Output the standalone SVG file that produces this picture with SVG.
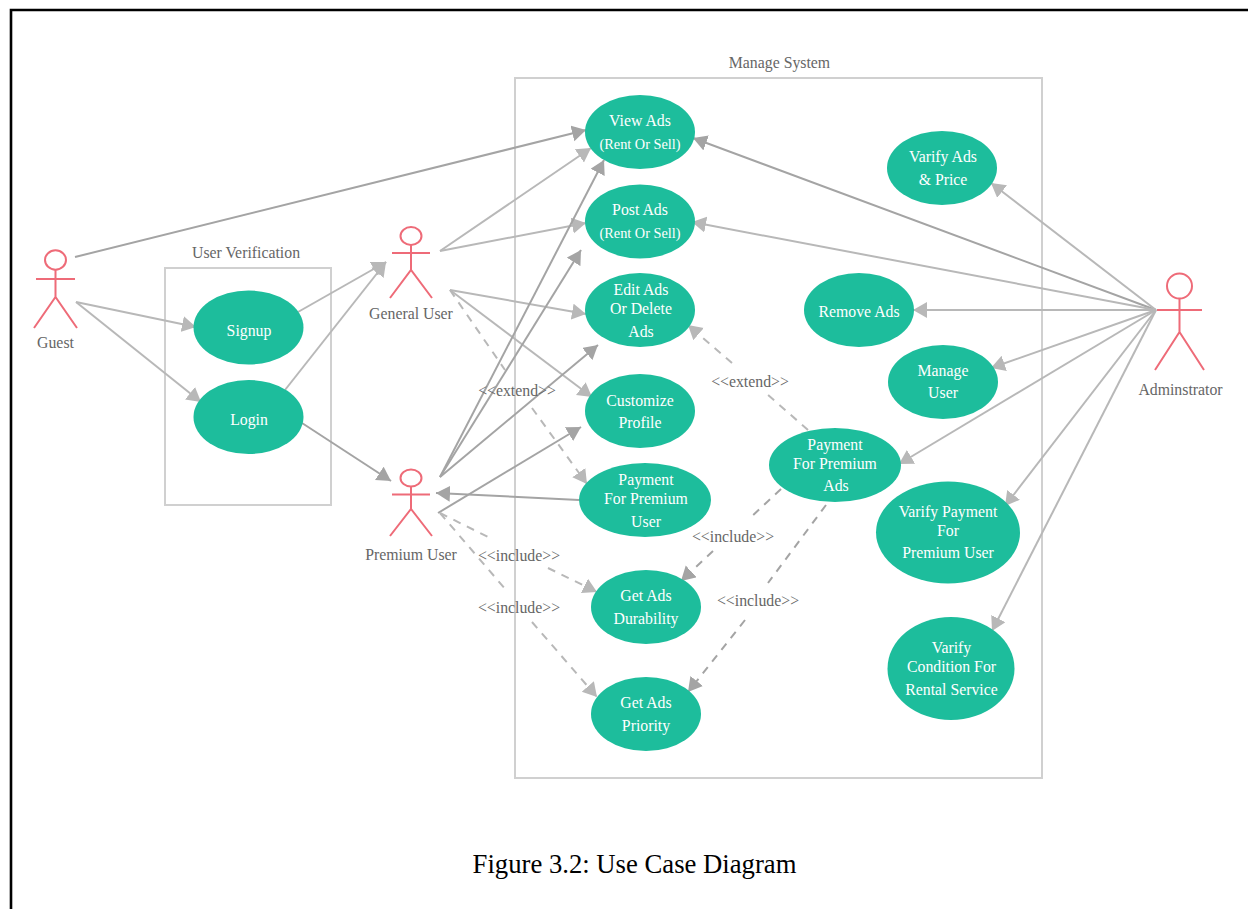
<svg xmlns="http://www.w3.org/2000/svg" width="1248" height="909" viewBox="0 0 1248 909">
<style>
text{font-family:"Liberation Serif","Times New Roman",serif;font-size:15.8px;text-anchor:middle;transform:translateY(.6px)}
.u{fill:#1dbd9c}
.uc text{fill:#fff}
.uc .s{font-size:14.3px}
.lb{fill:#666}
.box{fill:none;stroke:#d0d0d0;stroke-width:2}
.a{fill:none;stroke:#ee6b78;stroke-width:2}
.c{stroke:#b8b8b8;stroke-width:2;fill:none}
.d{stroke:#a4a4a4;stroke-width:2;fill:none}
.h{marker-end:url(#ml)}
.k{marker-end:url(#md)}
.e{stroke-dasharray:8 7}
</style>
<defs>
<marker id="ml" markerUnits="userSpaceOnUse" markerWidth="15" markerHeight="17" refX="14" refY="8" orient="auto"><path d="M0 0L14 8L0 16z" fill="#b8b8b8"/></marker>
<marker id="md" markerUnits="userSpaceOnUse" markerWidth="15" markerHeight="17" refX="14" refY="8" orient="auto"><path d="M0 0L14 8L0 16z" fill="#a4a4a4"/></marker>
</defs>
<rect width="1248" height="909" fill="#fff"/>
<path d="M11 909V10H1248" fill="none" stroke="#000" stroke-width="2.6"/>
<g id="user-verification"><rect class="box" x="165" y="268" width="166" height="237"/><text class="lb" x="246" y="257">User Verification</text></g>
<g id="manage-system"><rect class="box" x="515" y="78" width="527" height="700"/><text class="lb" x="779.500" y="67">Manage System</text></g>
<g id="connectors">
<path class="d k" d="M75 257L586 130"/>
<path class="c h" d="M76 302L196 327"/>
<path class="c h" d="M76 302L201 402"/>
<path class="c h" d="M298 312L386 262"/>
<path class="c h" d="M285 390L386 262"/>
<path class="d k" d="M302 423L391 481"/>
<path class="c h" d="M440 251L591 148"/>
<path class="c h" d="M440 251L586 223"/>
<path class="c h" d="M450 290L586 314"/>
<path class="c h" d="M450 290L592 397"/>
<path class="c e" d="M450 290L505 370"/>
<path class="c e h" d="M532 408L587 484"/>
<path class="d k" d="M440 477L604 160"/>
<path class="d k" d="M440 477L581 250"/>
<path class="d k" d="M440 477L598 345"/>
<path class="d k" d="M438 513L581 427"/>
<path class="d k" d="M579 500L436 493"/>
<path class="c e" d="M440 513L490 538"/>
<path class="c e h" d="M548 568L597 592"/>
<path class="c e" d="M440 513L506 590"/>
<path class="c e h" d="M532 622L597 697"/>
<path class="c e" d="M808 430L768 395"/>
<path class="c e h" d="M732 363L688 325"/>
<path class="d e" d="M781 489L751 517"/>
<path class="d e k" d="M713 551L681 581"/>
<path class="d e" d="M826 505L768 583"/>
<path class="d e k" d="M745 620L688 692"/>
<path class="d k" d="M1156 310L693 138"/>
<path class="c h" d="M1156 310L692 222"/>
<path class="c h" d="M1156 310L991 183"/>
<path class="c h" d="M1156 310L913 310"/>
<path class="c h" d="M1156 310L991 368"/>
<path class="c h" d="M1156 310L899 464"/>
<path class="c h" d="M1156 310L1005 506"/>
<path class="c h" d="M1156 310L992 631"/>
</g>
<g id="edge-labels">
<text class="lb" x="517" y="395">&lt;&lt;extend&gt;&gt;</text>
<text class="lb" x="519" y="560">&lt;&lt;include&gt;&gt;</text>
<text class="lb" x="519" y="612">&lt;&lt;include&gt;&gt;</text>
<text class="lb" x="750" y="386">&lt;&lt;extend&gt;&gt;</text>
<text class="lb" x="733" y="541">&lt;&lt;include&gt;&gt;</text>
<text class="lb" x="758" y="605">&lt;&lt;include&gt;&gt;</text>
</g>
<g id="guest"><ellipse class="a" cx="55.500" cy="260" rx="10.500" ry="9.700"/><path class="a" d="M36 279H75M55.500 270V297M34 328L55.500 297L77 328"/><text class="lb" x="55.500" y="347">Guest</text></g>
<g id="general-user"><ellipse class="a" cx="411" cy="236" rx="10.500" ry="9"/><path class="a" d="M392 253H430M411 245V270M390 298L411 270L432 298"/><text class="lb" x="411" y="318">General User</text></g>
<g id="premium-user"><ellipse class="a" cx="411" cy="478" rx="10.500" ry="8.500"/><path class="a" d="M392 494.500H430M411 486.500V509M390 536L411 509L432 536"/><text class="lb" x="411" y="559">Premium User</text></g>
<g id="adminstrator"><ellipse class="a" cx="1179.500" cy="286" rx="12.500" ry="12.500"/><path class="a" d="M1157 310H1202M1179.500 298.500V332L1155 370M1179.500 332L1204 370"/><text class="lb" x="1180.500" y="394">Adminstrator</text></g>
<g id="signup" class="uc"><ellipse class="u" cx="248.500" cy="327.500" rx="55" ry="37"/><text x="249" y="335">Signup</text></g>
<g id="login" class="uc"><ellipse class="u" cx="248.500" cy="417" rx="55" ry="37"/><text x="249" y="424">Login</text></g>
<g id="view-ads" class="uc"><ellipse class="u" cx="640" cy="132" rx="55" ry="37"/><text x="640" y="125">View Ads</text><text class="s" x="640" y="148">(Rent Or Sell)</text></g>
<g id="post-ads" class="uc"><ellipse class="u" cx="640" cy="221.500" rx="55" ry="37"/><text x="640" y="214">Post Ads</text><text class="s" x="640" y="237">(Rent Or Sell)</text></g>
<g id="edit-ads" class="uc"><ellipse class="u" cx="640" cy="310" rx="55" ry="37"/><text x="641" y="294">Edit Ads</text><text x="641" y="313">Or Delete</text><text x="641" y="336">Ads</text></g>
<g id="customize-profile" class="uc"><ellipse class="u" cx="640" cy="411" rx="55" ry="37"/><text x="640" y="405">Customize</text><text x="640" y="427">Profile</text></g>
<g id="payment-user" class="uc"><ellipse class="u" cx="645" cy="500" rx="66" ry="37"/><text x="646" y="484">Payment</text><text x="646" y="503">For Premium</text><text x="646" y="526">User</text></g>
<g id="get-durability" class="uc"><ellipse class="u" cx="646" cy="607" rx="55" ry="37"/><text x="646" y="600">Get Ads</text><text x="646" y="623">Durability</text></g>
<g id="get-priority" class="uc"><ellipse class="u" cx="646" cy="714" rx="55" ry="37"/><text x="646" y="707">Get Ads</text><text x="646" y="730">Priority</text></g>
<g id="payment-ads" class="uc"><ellipse class="u" cx="835" cy="465" rx="66" ry="37"/><text x="835" y="449">Payment</text><text x="835" y="468">For Premium</text><text x="836" y="490">Ads</text></g>
<g id="verify-ads" class="uc"><ellipse class="u" cx="942" cy="168" rx="55" ry="37"/><text x="943" y="161">Varify Ads</text><text x="943" y="184">&amp; Price</text></g>
<g id="remove-ads" class="uc"><ellipse class="u" cx="859" cy="310" rx="55" ry="37"/><text x="859" y="316">Remove Ads</text></g>
<g id="manage-user" class="uc"><ellipse class="u" cx="943" cy="382" rx="55" ry="37"/><text x="943" y="375">Manage</text><text x="943" y="397">User</text></g>
<g id="verify-payment" class="uc"><ellipse class="u" cx="948" cy="532.500" rx="72" ry="51"/><text x="948" y="516">Varify Payment</text><text x="948" y="535">For</text><text x="948" y="557">Premium User</text></g>
<g id="verify-condition" class="uc"><ellipse class="u" cx="951" cy="668.500" rx="63.500" ry="51.500"/><text x="951.500" y="652">Varify</text><text x="951.500" y="671">Condition For</text><text x="951.500" y="694">Rental Service</text></g>
<text x="634.500" y="872" style="font-size:26.700px;fill:#000">Figure 3.2: Use Case Diagram</text>
</svg>
